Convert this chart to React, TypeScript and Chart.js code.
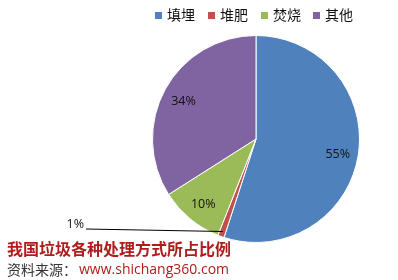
import React, { useEffect, useRef } from "react";
import { Chart, registerables } from "chart.js";

Chart.register(...registerables);

const categories = ["填埋", "堆肥", "焚烧", "其他"];
const shares = [55, 1, 10, 34];
const sliceLabels = ["55%", "1%", "10%", "34%"];
const colors = ["#4F81BD", "#C0504D", "#9BBB59", "#8064A2"];
const titleText = "我国垃圾各种处理方式所占比例";
const sourcePrefix = "资料来源：";
const sourceUrl = "www.shichang360.com";

const CJK = '"Noto Sans CJK SC", "Noto Sans", sans-serif';
const LBL = '"Open Sans", "Noto Sans", sans-serif';

const overlay = {
  id: "overlay",
  afterDraw(chart: any) {
    const ctx = chart.ctx as CanvasRenderingContext2D;
    const meta = chart.getDatasetMeta(0);
    ctx.save();
    // legend
    const legendX = [155, 208, 261, 313];
    ctx.font = `14px ${CJK}`;
    ctx.textBaseline = "middle";
    categories.forEach((c, i) => {
      ctx.fillStyle = colors[i];
      ctx.fillRect(legendX[i], 12, 7, 7);
      ctx.fillStyle = "#111";
      ctx.textAlign = "left";
      ctx.fillText(c, legendX[i] + 12, 15);
    });
    // slice labels
    ctx.font = `12.5px ${LBL}`;
    ctx.fillStyle = "#111";
    ctx.textAlign = "center";
    meta.data.forEach((arc: any, i: number) => {
      const { x, y, startAngle, endAngle, outerRadius } = arc.getProps(
        ["x", "y", "startAngle", "endAngle", "outerRadius"],
        true
      );
      const mid = (startAngle + endAngle) / 2;
      if (shares[i] < 3) {
        const ex = x + Math.cos(mid) * outerRadius * 0.95;
        const ey = y + Math.sin(mid) * outerRadius * 0.95;
        const lx = 86;
        const ly = 229;
        ctx.strokeStyle = "#000";
        ctx.lineWidth = 1;
        ctx.beginPath();
        ctx.moveTo(ex, ey);
        ctx.lineTo(lx, ly);
        ctx.stroke();
        ctx.textAlign = "right";
        ctx.fillText(sliceLabels[i], lx - 2, ly - 5);
        ctx.textAlign = "center";
      } else {
        const r = outerRadius * 0.8;
        ctx.fillText(sliceLabels[i], x + Math.cos(mid) * r, y + Math.sin(mid) * r + 2);
      }
    });
    // title & source
    ctx.textAlign = "left";
    ctx.font = `bold 16px ${CJK}`;
    ctx.fillStyle = "#B01C1C";
    ctx.fillText(titleText, 7, 249);
    ctx.font = `14px ${CJK}`;
    ctx.fillStyle = "#333";
    ctx.fillText(sourcePrefix, 7, 270);
    const w = ctx.measureText(sourcePrefix).width;
    ctx.font = `14px ${LBL}`;
    ctx.fillStyle = "#B01C1C";
    ctx.fillText(sourceUrl, 7 + w + 2, 270);
    ctx.restore();
  },
};

export default function App() {
  const ref = useRef<HTMLCanvasElement | null>(null);
  useEffect(() => {
    if (!ref.current) return;
    const chart = new Chart(ref.current, {
      type: "pie",
      data: {
        labels: categories,
        datasets: [
          {
            data: shares,
            backgroundColor: colors,
            borderColor: "#ffffff",
            borderWidth: 1,
          },
        ],
      },
      options: {
        animation: false,
        responsive: false,
        maintainAspectRatio: false,
        layout: { padding: { left: 152, right: 38, top: 35, bottom: 37 } },
        plugins: {
          legend: { display: false },
          tooltip: { enabled: false },
        },
      },
      plugins: [overlay],
    });
    return () => chart.destroy();
  }, []);
  return (
    <div style={{ position: "fixed", left: 0, top: 0, width: 398, height: 280, background: "#fff" }}>
      <canvas ref={ref} width={398} height={280} style={{ width: 398, height: 280 }} />
    </div>
  );
}
